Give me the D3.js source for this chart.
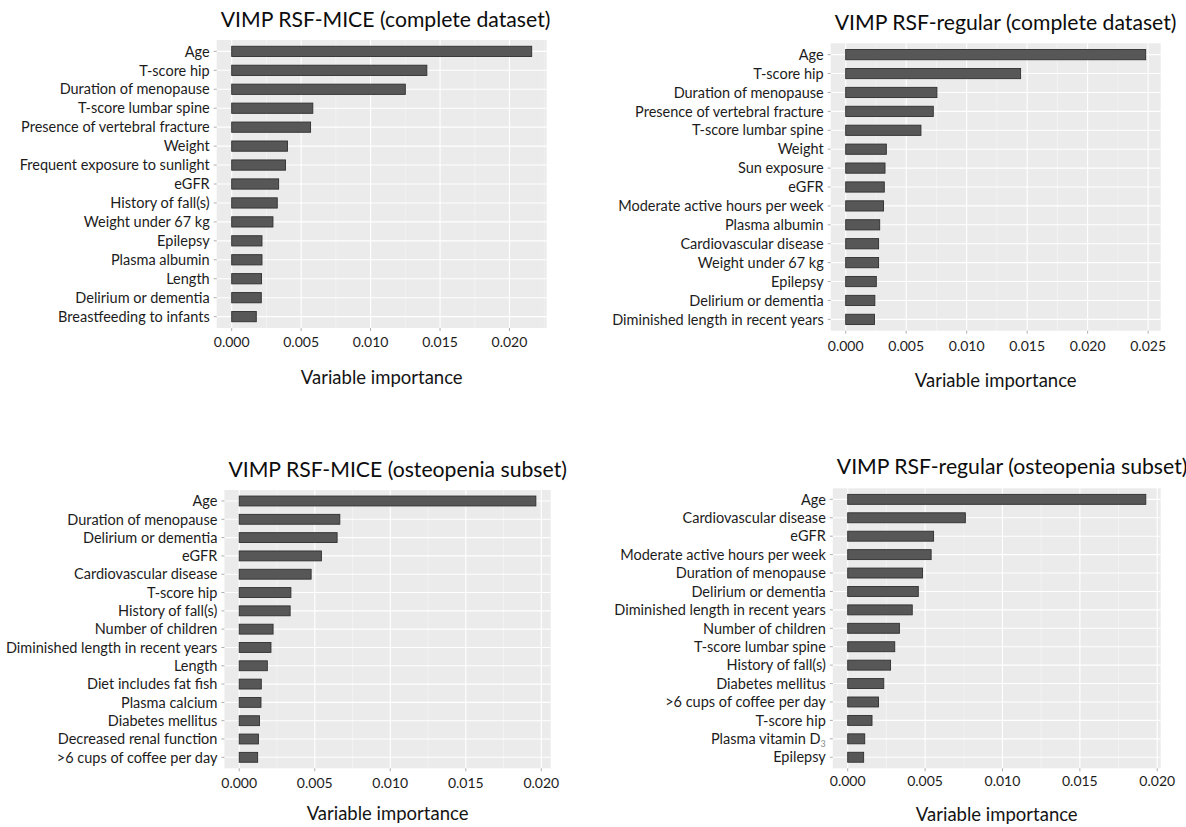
<!DOCTYPE html>
<html>
<head>
<meta charset="utf-8">
<script src="https://cdn.jsdelivr.net/npm/d3@7"></script>
<style>
  html, body { margin: 0; padding: 0; background: #fff; }
  svg { display: block; font-family: Lato, "Open Sans", sans-serif; }
</style>
</head>
<body>
<svg id="chart" width="1186" height="827"></svg>
<script>
// Variable importance (VIMP) of random survival forests, four model/dataset combinations.

const miceCompleteLabels = [
  "Age", "T-score hip", "Duration of menopause", "T-score lumbar spine",
  "Presence of vertebral fracture", "Weight", "Frequent exposure to sunlight",
  "eGFR", "History of fall(s)", "Weight under 67 kg", "Epilepsy",
  "Plasma albumin", "Length", "Delirium or dementia", "Breastfeeding to infants"
];
const miceCompleteValues = [
  0.0216, 0.01405, 0.0125, 0.00584, 0.00568, 0.00402, 0.00387,
  0.00338, 0.00328, 0.00297, 0.00218, 0.00218, 0.00215, 0.00213, 0.00177
];

const regularCompleteLabels = [
  "Age", "T-score hip", "Duration of menopause", "Presence of vertebral fracture",
  "T-score lumbar spine", "Weight", "Sun exposure", "eGFR",
  "Moderate active hours per week", "Plasma albumin", "Cardiovascular disease",
  "Weight under 67 kg", "Epilepsy", "Delirium or dementia",
  "Diminished length in recent years"
];
const regularCompleteValues = [
  0.0248, 0.01446, 0.00754, 0.00724, 0.00622, 0.00336, 0.00325, 0.00319,
  0.00313, 0.00281, 0.00272, 0.00272, 0.00253, 0.00241, 0.00238
];

const miceOsteopeniaLabels = [
  "Age", "Duration of menopause", "Delirium or dementia", "eGFR",
  "Cardiovascular disease", "T-score hip", "History of fall(s)",
  "Number of children", "Diminished length in recent years", "Length",
  "Diet includes fat fish", "Plasma calcium", "Diabetes mellitus",
  "Decreased renal function", ">6 cups of coffee per day"
];
const miceOsteopeniaValues = [
  0.01964, 0.00666, 0.00648, 0.00544, 0.00476, 0.00342, 0.00337,
  0.00224, 0.0021, 0.00186, 0.00146, 0.00144, 0.00134, 0.00127, 0.00122
];

const regularOsteopeniaLabels = [
  "Age", "Cardiovascular disease", "eGFR", "Moderate active hours per week",
  "Duration of menopause", "Delirium or dementia",
  "Diminished length in recent years", "Number of children",
  "T-score lumbar spine", "History of fall(s)", "Diabetes mellitus",
  ">6 cups of coffee per day", "T-score hip", "Plasma vitamin D\u2083", "Epilepsy"
];
const regularOsteopeniaValues = [
  0.01926, 0.0076, 0.00555, 0.00539, 0.00483, 0.00456, 0.00417, 0.00334,
  0.00304, 0.00277, 0.00233, 0.00199, 0.00157, 0.0011, 0.00103
];

const ticksTo020 = [0, 0.005, 0.01, 0.015, 0.02];
const ticksTo025 = [0, 0.005, 0.01, 0.015, 0.02, 0.025];

const panelTitles = [
  "VIMP RSF-MICE (complete dataset)",
  "VIMP RSF-regular (complete dataset)",
  "VIMP RSF-MICE (osteopenia subset)",
  "VIMP RSF-regular (osteopenia subset)"
];
const axisTitle = "Variable importance";

// Panel frames on the page (plot area edges and text offsets)
const layout = [
  { x0: 216.7, x1: 546.7, y0: 40,   y1: 328,   titleY: 27,  tickY: 342, axisY: 377 },
  { x0: 830.7, x1: 1160.7, y0: 43.3, y1: 330.7, titleY: 30,  tickY: 346, axisY: 380 },
  { x0: 224.4, x1: 550.7, y0: 490,  y1: 768.3, titleY: 477, tickY: 783, axisY: 813 },
  { x0: 832.8, x1: 1160.7, y0: 488.3, y1: 768.3, titleY: 474, tickY: 781, axisY: 814 }
];

const panels = [
  { labels: miceCompleteLabels, values: miceCompleteValues, ticks: ticksTo020 },
  { labels: regularCompleteLabels, values: regularCompleteValues, ticks: ticksTo025 },
  { labels: miceOsteopeniaLabels, values: miceOsteopeniaValues, ticks: ticksTo020 },
  { labels: regularOsteopeniaLabels, values: regularOsteopeniaValues, ticks: ticksTo020 }
];

const svg = d3.select("#chart");
svg.append("rect").attr("width", 1186).attr("height", 827).attr("fill", "#fff");

panels.forEach((p, i) => {
  const L = layout[i];
  const g = svg.append("g");
  const maxV = d3.max(p.values);

  // continuous axis with 5% padding on each side
  const x = d3.scaleLinear()
    .domain([-0.05 * maxV, 1.05 * maxV])
    .range([L.x0, L.x1]);

  // discrete axis with 0.6 band of padding at both ends
  const n = p.labels.length;
  const yPos = d3.scaleLinear()
    .domain([-0.6, n - 1 + 0.6])
    .range([L.y0, L.y1]);
  const step = (L.y1 - L.y0) / (n + 0.2);
  const barH = step * 0.54;

  // panel background
  g.append("rect")
    .attr("x", L.x0).attr("y", L.y0)
    .attr("width", L.x1 - L.x0).attr("height", L.y1 - L.y0)
    .attr("fill", "#ebebeb");

  // minor vertical grid
  const minor = d3.range(p.ticks.length - 1).map(k => (p.ticks[k] + p.ticks[k + 1]) / 2)
    .concat([p.ticks[p.ticks.length - 1] + 0.0025]).filter(v => x(v) < L.x1);
  g.selectAll(".minor").data(minor).enter().append("line")
    .attr("x1", d => x(d)).attr("x2", d => x(d))
    .attr("y1", L.y0).attr("y2", L.y1)
    .attr("stroke", "#f6f6f6").attr("stroke-width", 0.6);

  // major vertical grid
  g.selectAll(".major").data(p.ticks).enter().append("line")
    .attr("x1", d => x(d)).attr("x2", d => x(d))
    .attr("y1", L.y0).attr("y2", L.y1)
    .attr("stroke", "#fff").attr("stroke-width", 1.1);

  // horizontal grid at categories
  g.selectAll(".hgrid").data(p.labels).enter().append("line")
    .attr("x1", L.x0).attr("x2", L.x1)
    .attr("y1", (d, k) => yPos(k)).attr("y2", (d, k) => yPos(k))
    .attr("stroke", "#fff").attr("stroke-width", 1.1);

  // bars
  g.selectAll(".bar").data(p.values).enter().append("rect")
    .attr("x", x(0))
    .attr("y", (d, k) => yPos(k) - barH / 2)
    .attr("width", d => x(d) - x(0))
    .attr("height", barH)
    .attr("fill", "#575757")
    .attr("stroke", "#2f2f2f")
    .attr("stroke-width", 0.9);

  // y tick marks and labels
  g.selectAll(".ytick").data(p.labels).enter().append("line")
    .attr("x1", L.x0 - 3).attr("x2", L.x0)
    .attr("y1", (d, k) => yPos(k)).attr("y2", (d, k) => yPos(k))
    .attr("stroke", "#9a9a9a").attr("stroke-width", 0.8);

  g.selectAll(".ylab").data(p.labels).enter().append("text")
    .attr("x", L.x0 - 7)
    .attr("y", (d, k) => yPos(k))
    .attr("dy", "0.36em")
    .attr("text-anchor", "end")
    .attr("font-size", 14.5)
    .attr("fill", "#1c1c1c")
    .each(function (d) {
      const t = d3.select(this);
      if (d.endsWith("\u2083")) {
        t.append("tspan").text(d.slice(0, -1));
        t.append("tspan").attr("font-size", 9).attr("dy", "0.3em").attr("fill", "#8a8a8a").text("3");
      } else {
        t.text(d);
      }
    });

  // x tick marks and labels
  g.selectAll(".xtick").data(p.ticks).enter().append("line")
    .attr("x1", d => x(d)).attr("x2", d => x(d))
    .attr("y1", L.y1).attr("y2", L.y1 + 3)
    .attr("stroke", "#9a9a9a").attr("stroke-width", 0.8);

  g.selectAll(".xlab").data(p.ticks).enter().append("text")
    .attr("x", d => x(d))
    .attr("y", L.tickY)
    .attr("dy", "0.36em")
    .attr("text-anchor", "middle")
    .attr("font-size", 14)
    .attr("fill", "#1c1c1c")
    .text(d => d3.format(".3f")(d));

  // axis title
  g.append("text")
    .attr("x", (L.x0 + L.x1) / 2)
    .attr("y", L.axisY)
    .attr("dy", "0.36em")
    .attr("text-anchor", "middle")
    .attr("font-size", 18.5)
    .attr("fill", "#141414")
    .text(axisTitle);

  // panel title
  g.append("text")
    .attr("x", L.x0 + 4)
    .attr("y", L.titleY)
    .attr("font-size", 21.2)
    .attr("fill", "#0d0d0d")
    .text(panelTitles[i]);
});
</script>
</body>
</html>
